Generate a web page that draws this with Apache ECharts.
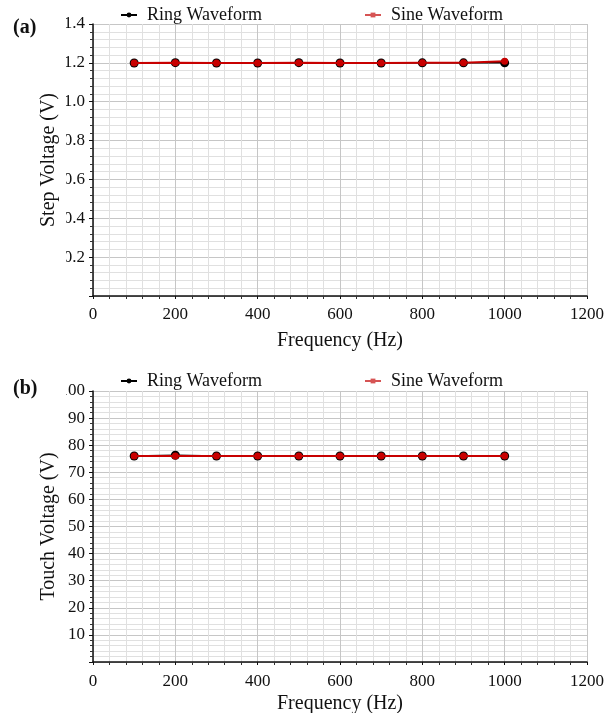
<!DOCTYPE html>
<html>
<head>
<meta charset="utf-8">
<script src="https://cdn.jsdelivr.net/npm/echarts@6/dist/echarts.min.js"></script>
<style>
  html, body { margin: 0; padding: 0; background: #fff; }
  #chart { width: 613px; height: 713px; }
</style>
</head>
<body>
<div id="chart"></div>
<script>
// Frequencies (Hz) shared by both panels
const frequency = [100, 200, 300, 400, 500, 600, 700, 800, 900, 1000];

// (a) Step voltage (V)
const stepRing = [1.199, 1.201, 1.199, 1.199, 1.201, 1.199, 1.199, 1.200, 1.200, 1.200];
const stepSine = [1.199, 1.200, 1.199, 1.199, 1.200, 1.199, 1.199, 1.200, 1.201, 1.208];

// (b) Touch voltage (V)
const touchRing = [76.0, 76.3, 76.0, 76.0, 76.0, 76.0, 76.0, 76.0, 76.0, 76.0];
const touchSine = [76.0, 76.0, 76.0, 76.0, 76.0, 76.0, 76.0, 76.0, 76.0, 76.0];

// Axis ranges and tick steps
const xTicks = [0, 200, 400, 600, 800, 1000, 1200];
const stepTicks = [0.2, 0.4, 0.6, 0.8, 1.0, 1.2, 1.4];
const touchTicks = [10, 20, 30, 40, 50, 60, 70, 80, 90, 100];

const seriesNames = ['Ring Waveform', 'Sine Waveform'];

const FONT = 'Liberation Serif';
const majorGrid = '#c6c6c6';
const minorGrid = '#e0e0e0';
const RING = '#000000';
const SINE = '#c80000';
const SINE_LEGEND = '#d65454';

const pairs = (xs, ys) => xs.map((x, i) => [x, ys[i]]);

function xAxisFor(gridIndex, labelMargin, nameGap) {
  return {
    type: 'value', gridIndex,
    min: xTicks[0], max: xTicks[xTicks.length - 1], interval: 200,
    name: 'Frequency (Hz)', nameLocation: 'middle', nameGap, nameMoveOverlap: false,
    nameTextStyle: { fontFamily: FONT, fontSize: 20, color: '#111' },
    axisLine: { show: true, onZero: false, lineStyle: { color: '#111', width: 1.5 } },
    axisTick: { show: true, length: 3, lineStyle: { color: '#111' } },
    minorTick: { show: true, splitNumber: 5, length: 3, lineStyle: { color: '#333' } },
    splitLine: { show: true, lineStyle: { color: majorGrid, width: 1 } },
    minorSplitLine: { show: true, lineStyle: { color: minorGrid, width: 1 } },
    axisLabel: {
      fontFamily: FONT, fontSize: 17, color: '#111', margin: labelMargin,
      formatter: v => String(v)
    }
  };
}

function yAxisFor(gridIndex, name, max, interval, digits) {
  return {
    type: 'value', gridIndex,
    min: 0, max, interval,
    name, nameLocation: 'middle', nameGap: 34, nameMoveOverlap: false,
    nameTextStyle: { fontFamily: FONT, fontSize: 20, color: '#111' },
    axisLine: { show: true, onZero: false, lineStyle: { color: '#111', width: 1.5 } },
    axisTick: { show: true, length: 4, lineStyle: { color: '#111' } },
    minorTick: { show: true, splitNumber: 5, length: 3, lineStyle: { color: '#333' } },
    splitLine: { show: true, lineStyle: { color: majorGrid, width: 1 } },
    minorSplitLine: { show: true, lineStyle: { color: minorGrid, width: 1 } },
    axisLabel: {
      fontFamily: FONT, fontSize: 17, color: '#111', margin: 8,
      formatter: v => (v === 0 ? '' : v.toFixed(digits))
    }
  };
}

function legendFor(top) {
  return {
    top, left: 115,
    itemWidth: 16, itemHeight: 6, itemGap: 102,
    textStyle: { fontFamily: FONT, fontSize: 18, color: '#111', padding: [0, 0, 0, 5] },
    data: [
      { name: seriesNames[0] },
      { name: seriesNames[1], itemStyle: { color: SINE_LEGEND }, lineStyle: { color: SINE_LEGEND } }
    ]
  };
}

function ringSeries(axisIndex, values) {
  return {
    name: seriesNames[0], type: 'line',
    xAxisIndex: axisIndex, yAxisIndex: axisIndex,
    data: pairs(frequency, values),
    symbol: 'circle', symbolSize: 9,
    itemStyle: { color: RING },
    lineStyle: { color: RING, width: 1.5 },
    z: 3
  };
}

function sineSeries(axisIndex, values) {
  // square marker for the legend key, round markers on the plot
  return {
    name: seriesNames[1], type: 'line',
    xAxisIndex: axisIndex, yAxisIndex: axisIndex,
    data: pairs(frequency, values).map(p => ({ value: p, symbol: 'circle' })),
    symbol: 'rect', symbolSize: 7,
    itemStyle: { color: SINE },
    lineStyle: { color: SINE, width: 2 },
    z: 4
  };
}

const chart = echarts.init(document.getElementById('chart'), null, { renderer: 'canvas' });

chart.setOption({
  animation: false,
  backgroundColor: '#ffffff',
  grid: [
    { left: 93, top: 24, width: 494, height: 272, outerBoundsMode: 'none' },
    { left: 93, top: 391, width: 494, height: 271, outerBoundsMode: 'none' }
  ],
  legend: [legendFor(1), legendFor(367)],
  xAxis: [xAxisFor(0, 10, 35), xAxisFor(1, 11, 32)],
  yAxis: [
    yAxisFor(0, 'Step Voltage (V)', stepTicks[stepTicks.length - 1], 0.2, 1),
    yAxisFor(1, 'Touch Voltage (V)', touchTicks[touchTicks.length - 1], 10, 0)
  ],
  series: [
    ringSeries(0, stepRing),
    sineSeries(0, stepSine),
    ringSeries(1, touchRing),
    sineSeries(1, touchSine)
  ],
  graphic: [
    { type: 'text', left: 13, top: 18, style: { text: '(a)', font: 'bold 20px "Liberation Serif"', fill: '#111' } },
    { type: 'text', left: 13, top: 379, style: { text: '(b)', font: 'bold 20px "Liberation Serif"', fill: '#111' } },
    // the tick-label column is cut off on its left edge
    { type: 'rect', shape: { x: 60.5, y: 12, width: 5.5, height: 296 }, style: { fill: '#ffffff' }, z: 100 },
    { type: 'rect', shape: { x: 60.5, y: 380, width: 5.5, height: 292 }, style: { fill: '#ffffff' }, z: 100 }
  ]
});
</script>
</body>
</html>
